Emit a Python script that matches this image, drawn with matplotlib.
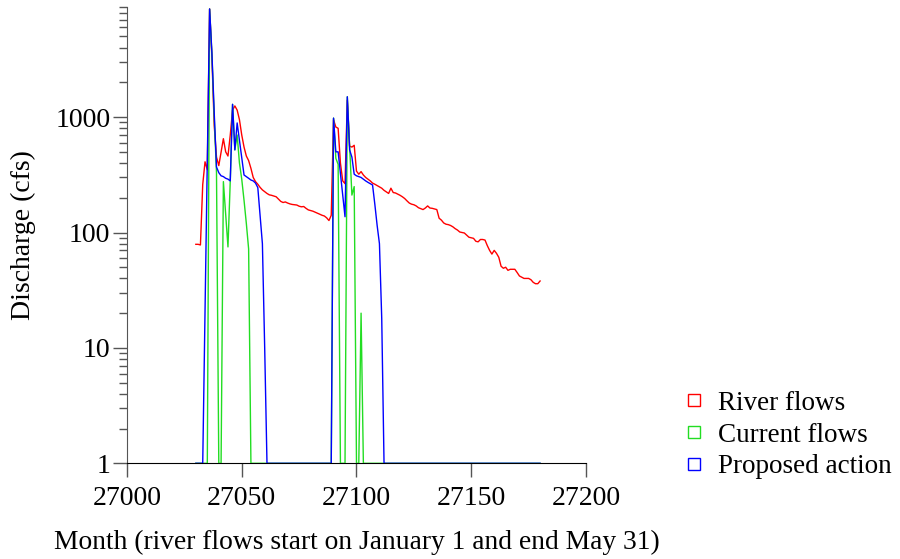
import matplotlib.pyplot as plt
from matplotlib.lines import Line2D
from matplotlib.ticker import FixedLocator, LogLocator, NullFormatter
import numpy as np

# =====================================
# DATA (daily values)
# =====================================

days = np.arange(27030, 27181)

river_flows = [
    79, 79, 78, 260, 410, 350, 8650, 3300, 850, 450,
    380, 500, 650, 500, 460, 700, 1150, 1250, 1150, 950,
    700, 550, 460, 420, 360, 300, 276, 262, 246, 234,
    226, 218, 212, 210, 207, 204, 195, 186, 182, 184,
    180, 177, 175, 174, 173, 169, 167, 168, 162, 157,
    155, 153, 150, 147, 144, 141, 139, 134, 127, 141,
    950, 820, 800, 400, 280, 265, 1400, 560, 550, 570,
    340, 320, 337, 315, 300, 290, 280, 268, 262, 255,
    248, 242, 232, 225, 218, 242, 222, 220, 215, 210,
    204, 197, 188, 180, 176, 174, 170, 164, 161, 158,
    163, 170, 163, 162, 160, 158, 133, 128, 121, 118,
    117, 115, 112, 108, 105, 101, 100, 99, 95, 91,
    90, 89, 84, 83, 87, 87, 86, 77, 70, 65,
    70, 66, 61, 51, 49, 50, 47, 48, 48, 48,
    45, 42, 41, 40, 40, 40, 39, 37, 36, 36, 38,
]

current_flows = [
    1, 1, 1, 1, 1, 1, 8650, 3500, 1000, 330,
    1, 1, 276, 144, 75, 280, 1290, 520, 700, 400,
    290, 190, 120, 72, 1, 1, 1, 1, 1, 1,
    1, 1, 1, 1, 1, 1, 1, 1, 1, 1,
    1, 1, 1, 1, 1, 1, 1, 1, 1, 1,
    1, 1, 1, 1, 1, 1, 1, 1, 1, 1,
    980, 440, 390, 1, 1, 1, 1500, 550, 211, 250,
    1, 1, 20, 1, 1, 1, 1, 1, 1, 1,
    1, 1, 1, 1, 1, 1, 1, 1, 1, 1,
    1, 1, 1, 1, 1, 1, 1, 1, 1, 1,
    1, 1, 1, 1, 1, 1, 1, 1, 1, 1,
    1, 1, 1, 1, 1, 1, 1, 1, 1, 1,
    1, 1, 1, 1, 1, 1, 1, 1, 1, 1,
    1, 1, 1, 1, 1, 1, 1, 1, 1, 1,
    1, 1, 1, 1, 1, 1, 1, 1, 1, 1, 1,
]

proposed_action = [
    1, 1, 1, 1, 20, 420, 8650, 3600, 1100, 370,
    330, 310, 305, 295, 290, 280, 1290, 520, 890, 630,
    445, 315, 305, 295, 285, 280, 268, 245, 140, 80,
    10, 1, 1, 1, 1, 1, 1, 1, 1, 1,
    1, 1, 1, 1, 1, 1, 1, 1, 1, 1,
    1, 1, 1, 1, 1, 1, 1, 1, 1, 1,
    980, 500, 500, 325, 210, 137, 1500, 520, 450, 320,
    310, 305, 300, 290, 280, 272, 265, 258, 175, 115,
    80, 18, 1, 1, 1, 1, 1, 1, 1, 1,
    1, 1, 1, 1, 1, 1, 1, 1, 1, 1,
    1, 1, 1, 1, 1, 1, 1, 1, 1, 1,
    1, 1, 1, 1, 1, 1, 1, 1, 1, 1,
    1, 1, 1, 1, 1, 1, 1, 1, 1, 1,
    1, 1, 1, 1, 1, 1, 1, 1, 1, 1,
    1, 1, 1, 1, 1, 1, 1, 1, 1, 1, 1,
]

x_ticks = [27000, 27050, 27100, 27150, 27200]
y_ticks = [1, 10, 100, 1000]
y_tick_labels = ["1", "10", "100", "1000"]
series_labels = ["River flows", "Current flows", "Proposed action"]
series_colors = ["#ff0000", "#22dd22", "#0000ff"]

# =====================================
# PLOT
# =====================================

plt.rcParams['font.family'] = ['Liberation Serif', 'DejaVu Serif']

fig = plt.figure(figsize=(9, 5.59), dpi=100)
ax = fig.add_axes([0.1411, 0.1712, 0.5100, 0.8163])

ax.plot(days, river_flows, color=series_colors[0], lw=1.0, zorder=2)
ax.plot(days, current_flows, color=series_colors[1], lw=1.0, zorder=3)
ax.plot(days, proposed_action, color=series_colors[2], lw=1.0, zorder=4)

ax.set_yscale('log')
ax.set_xlim(27000, 27200)
ax.set_ylim(1, 9000)

ax.xaxis.set_major_locator(FixedLocator(x_ticks))
ax.yaxis.set_major_locator(FixedLocator(y_ticks))
ax.set_yticklabels(y_tick_labels)
ax.yaxis.set_minor_locator(LogLocator(base=10, subs=np.arange(2, 10)))
ax.yaxis.set_minor_formatter(NullFormatter())

for side in ['top', 'right']:
    ax.spines[side].set_visible(False)
ax.spines['left'].set_color('#555555')
ax.spines['bottom'].set_color('black')

ax.tick_params(axis='x', which='major', direction='out', length=10,
               width=1, color='#555555', labelsize=20, pad=6)
ax.tick_params(axis='y', which='major', direction='out', length=10,
               width=1, color='#555555', labelsize=20, pad=2)
ax.tick_params(axis='y', which='minor', direction='out', length=6,
               width=1, color='#555555')

ax.set_xlabel("Month (river flows start on January 1 and end May 31)",
              fontsize=19.8, labelpad=14)
ax.set_ylabel("Discharge (cfs)", fontsize=20, labelpad=14)

handles = [
    Line2D([], [], marker='s', linestyle='none', markersize=9,
           markerfacecolor='none', markeredgecolor=c, markeredgewidth=1)
    for c in series_colors
]
fig.legend(handles, series_labels, loc='lower left',
           bbox_to_anchor=(0.744, 0.118), frameon=False, fontsize=19.5,
           handlelength=0.8, handletextpad=0.5, labelspacing=0.25,
           borderpad=0)

fig.savefig("out.png", dpi=100)
